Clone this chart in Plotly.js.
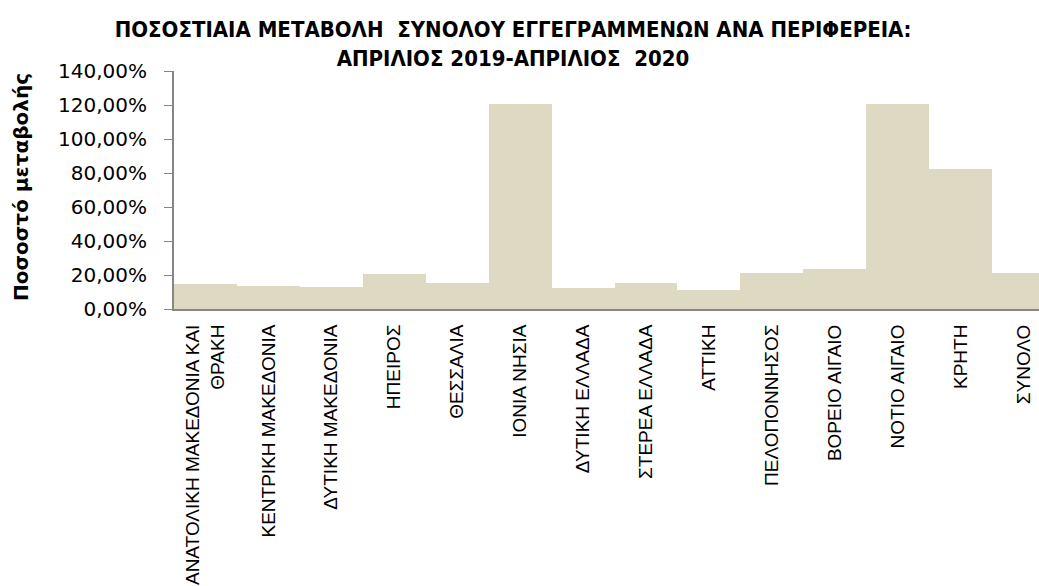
<!DOCTYPE html>
<html>
<head>
<meta charset="utf-8">
<script src="https://cdn.plot.ly/plotly-3.0.1.min.js"></script>
<style>
html,body{margin:0;padding:0;overflow:hidden;background:#fff;}
#chart{width:1056px;height:586px;}
</style>
</head>
<body>
<div id="chart"></div>
<script>
var regions = [
  "ΑΝΑΤΟΛΙΚΗ ΜΑΚΕΔΟΝΙΑ ΚΑΙ<br>ΘΡΑΚΗ",
  "ΚΕΝΤΡΙΚΗ ΜΑΚΕΔΟΝΙΑ",
  "ΔΥΤΙΚΗ ΜΑΚΕΔΟΝΙΑ",
  "ΗΠΕΙΡΟΣ",
  "ΘΕΣΣΑΛΙΑ",
  "ΙΟΝΙΑ ΝΗΣΙΑ",
  "ΔΥΤΙΚΗ ΕΛΛΑΔΑ",
  "ΣΤΕΡΕΑ ΕΛΛΑΔΑ",
  "ΑΤΤΙΚΗ",
  "ΠΕΛΟΠΟΝΝΗΣΟΣ",
  "ΒΟΡΕΙΟ ΑΙΓΑΙΟ",
  "ΝΟΤΙΟ ΑΙΓΑΙΟ",
  "ΚΡΗΤΗ",
  "ΣΥΝΟΛΟ"
];
var changePct = [14.9, 13.7, 13.1, 20.7, 15.4, 120.6, 12.5, 15.4, 11.3, 21.3, 23.7, 120.6, 82.4, 21.3];
var yTicks = [0, 20, 40, 60, 80, 100, 120, 140];
var yTickText = yTicks.map(function (v) { return v.toFixed(2).replace(".", ",") + "%"; });

var titleText = "ΠΟΣΟΣΤΙΑΙΑ ΜΕΤΑΒΟΛΗ  ΣΥΝΟΛΟΥ ΕΓΓΕΓΡΑΜΜΕΝΩΝ ΑΝΑ ΠΕΡΙΦΕΡΕΙΑ:<br>ΑΠΡΙΛΙΟΣ 2019-ΑΠΡΙΛΙΟΣ  2020";
var yTitle = "Ποσοστό μεταβολής";

var W = 1056, H = 586, L = 174, R = 1, T = 71, B = 277;

var trace = {
  type: "bar",
  x: regions,
  y: changePct,
  marker: {color: "#DED9C3", line: {width: 0}},
  hoverinfo: "x+y"
};

var layout = {
  width: W, height: H,
  margin: {l: L, r: R, t: T, b: B, pad: 0},
  paper_bgcolor: "#ffffff",
  plot_bgcolor: "#ffffff",
  separators: ",.",
  bargap: 0,
  showlegend: false,
  title: {
    text: titleText,
    font: {family: "DejaVu Sans Condensed, DejaVu Sans, sans-serif", size: 22, color: "#000000", weight: "bold"},
    xref: "container", x: 513 / W, xanchor: "center",
    yref: "container", y: 1 - 37 / H, yanchor: "top"
  },
  xaxis: {
    type: "category",
    showline: true, linecolor: "#868686", linewidth: 2,
    ticks: "", showgrid: false, zeroline: false,
    tickangle: -90,
    ticklabelstandoff: 6,
    tickfont: {family: "Liberation Sans, Arial, sans-serif", size: 19, color: "#000000"},
    automargin: false
  },
  yaxis: {
    range: [0, 140],
    tickmode: "array",
    tickvals: yTicks,
    ticktext: yTickText,
    showline: true, linecolor: "#868686", linewidth: 2,
    ticks: "outside", ticklen: 8, tickcolor: "#868686", tickwidth: 1,
    ticklabelstandoff: 13,
    showgrid: false, zeroline: false,
    tickfont: {family: "DejaVu Sans, sans-serif", size: 20, color: "#000000"},
    automargin: false
  },
  annotations: [{
    text: yTitle,
    xref: "paper", yref: "paper",
    x: (21 - L) / (W - L - R), y: (586 - 187 - B) / (H - T - B),
    xanchor: "center", yanchor: "middle",
    textangle: -90, showarrow: false,
    font: {family: "DejaVu Sans, sans-serif", size: 20, color: "#000000", weight: "bold"}
  }]
};

Plotly.newPlot("chart", [trace], layout, {displayModeBar: false, responsive: false});
</script>
</body>
</html>
